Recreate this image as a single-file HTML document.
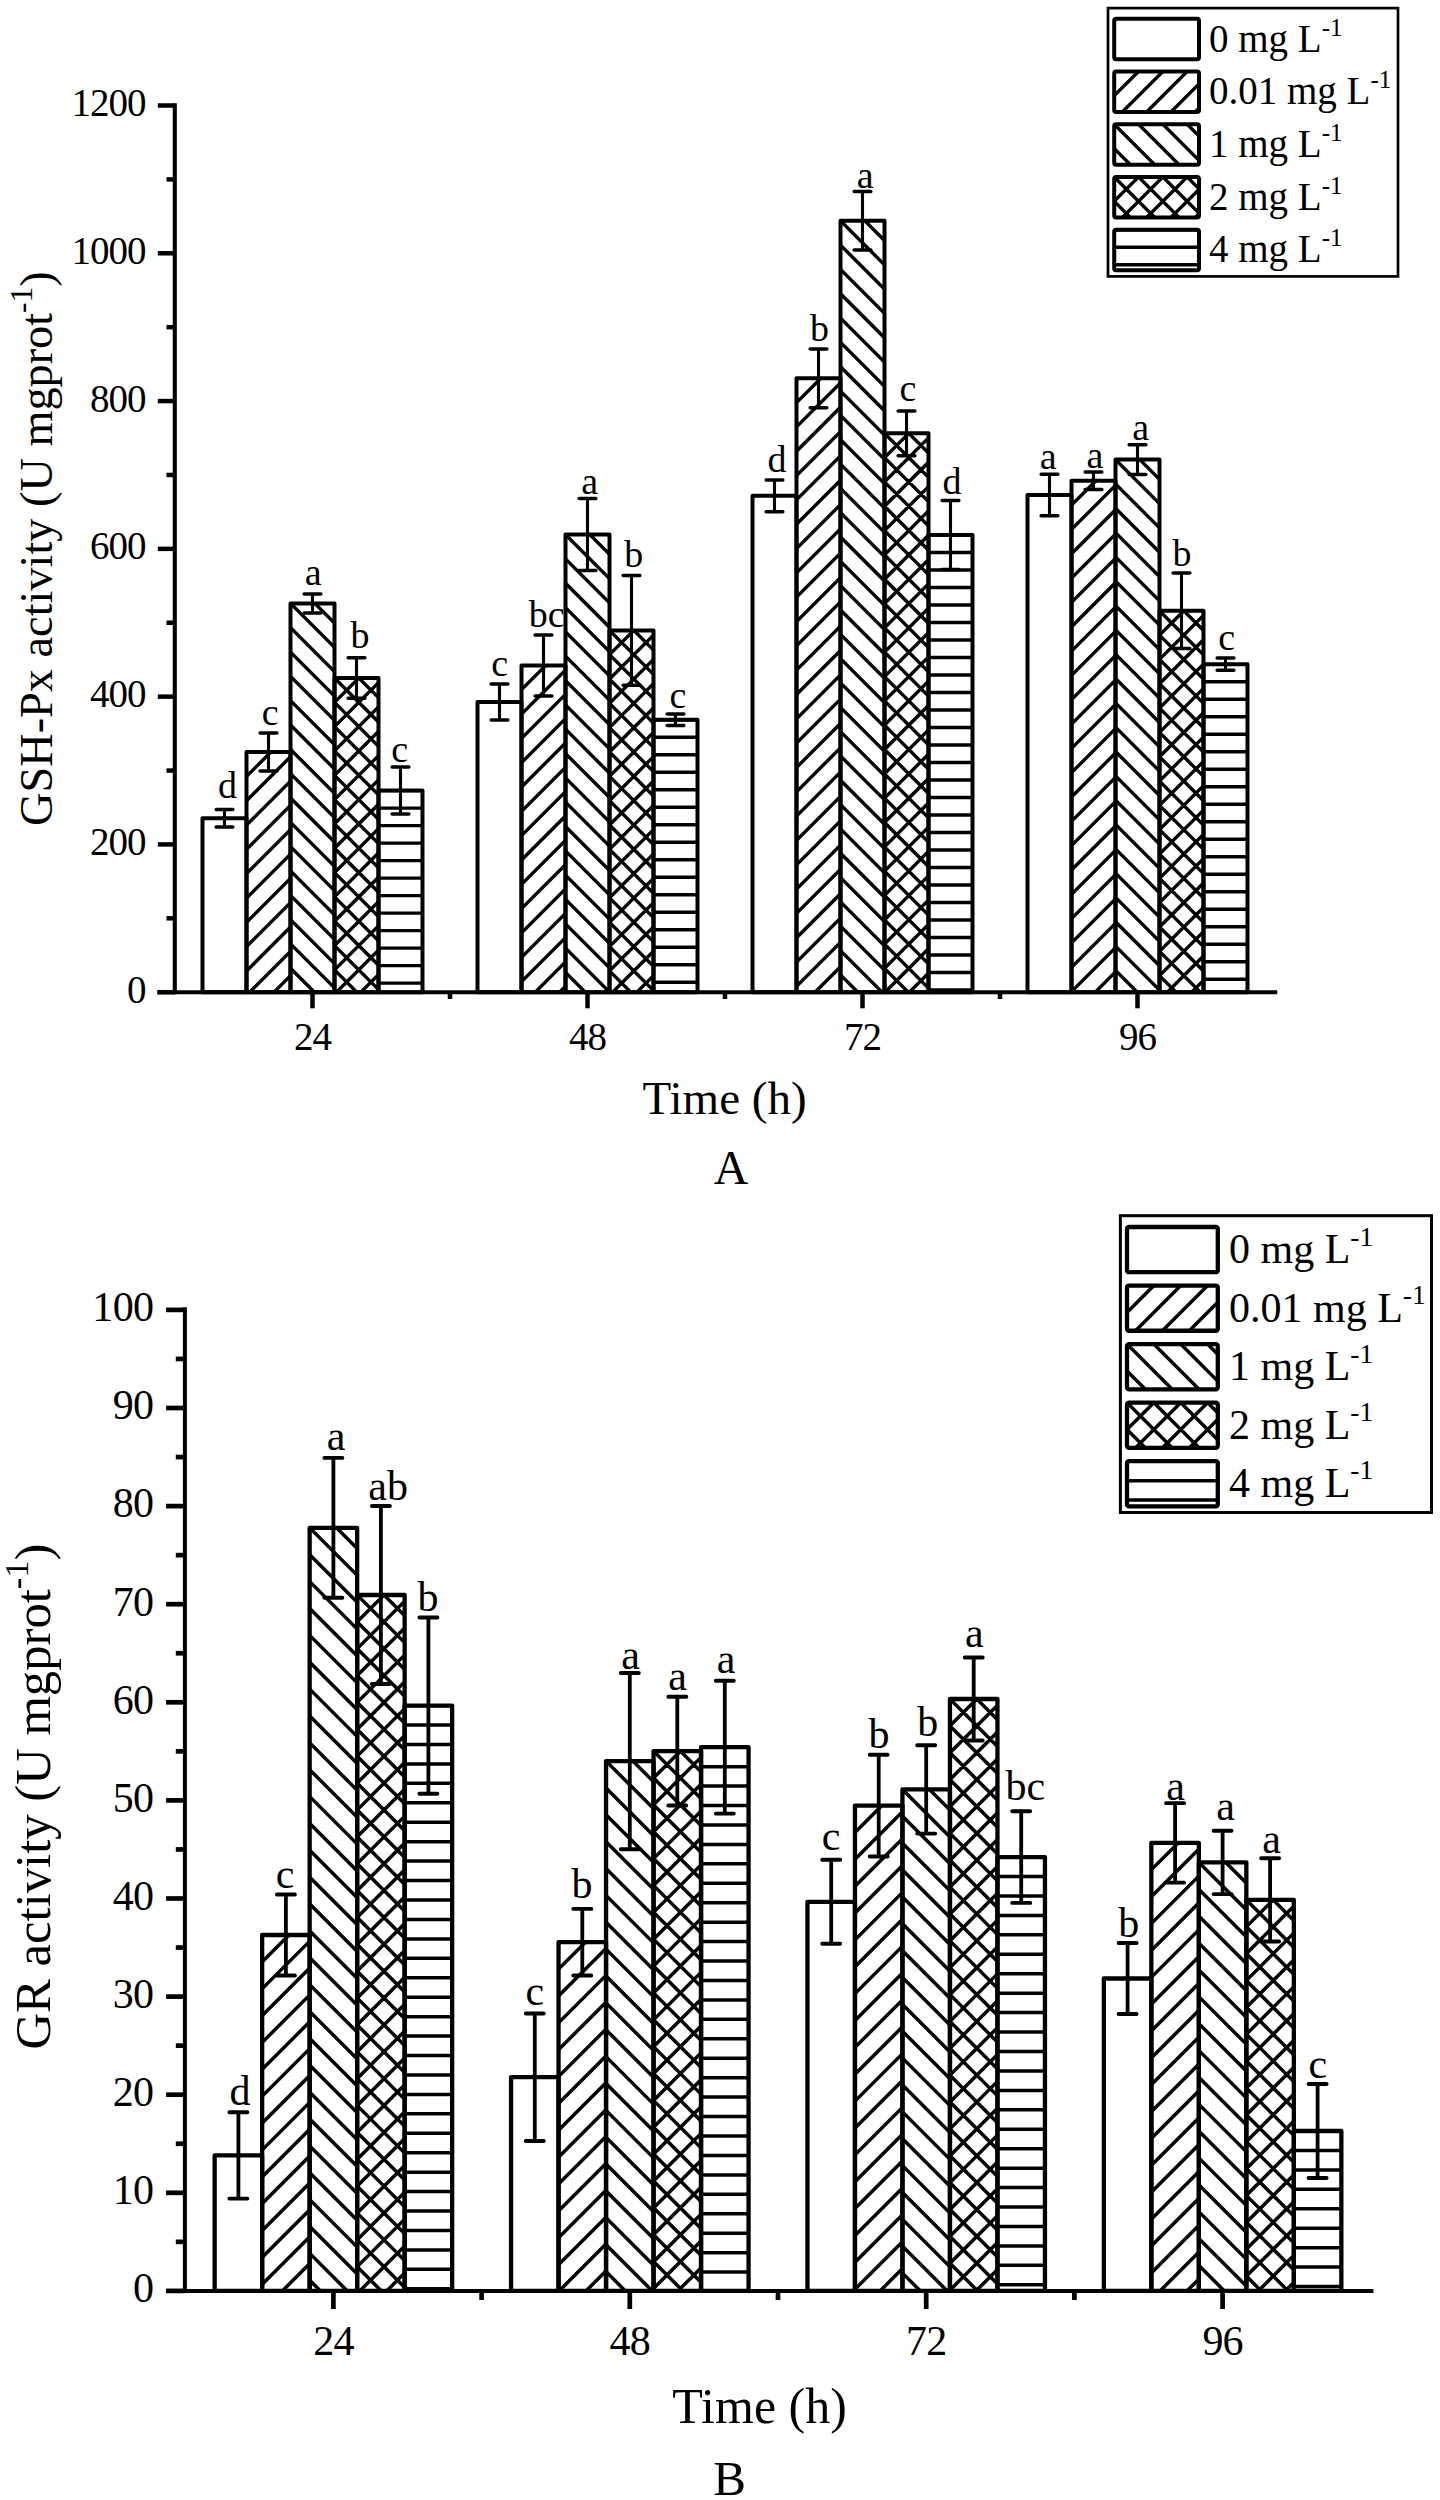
<!DOCTYPE html><html><head><meta charset="utf-8"><style>html,body{margin:0;padding:0;background:#fff;overflow:hidden}svg{display:block;}</style></head><body><svg width="1440" height="2500" viewBox="0 0 1440 2500" font-family="Liberation Serif, serif"><defs><pattern id="Ah" patternUnits="userSpaceOnUse" width="20" height="17.6" y="0"><rect x="0" y="0" width="20" height="3.3" fill="#000"/></pattern><pattern id="Af" patternUnits="userSpaceOnUse" width="20" height="17.2" patternTransform="rotate(-45)"><rect x="0" y="0" width="20" height="3.3" fill="#000"/></pattern><pattern id="Ab" patternUnits="userSpaceOnUse" width="20" height="17.2" patternTransform="rotate(45)"><rect x="0" y="0" width="20" height="3.3" fill="#000"/></pattern><pattern id="Bh" patternUnits="userSpaceOnUse" width="20" height="19.44" y="0"><rect x="0" y="0" width="20" height="3.5" fill="#000"/></pattern><pattern id="Bf" patternUnits="userSpaceOnUse" width="20" height="19" patternTransform="rotate(-45)"><rect x="0" y="0" width="20" height="3.5" fill="#000"/></pattern><pattern id="Bb" patternUnits="userSpaceOnUse" width="20" height="19" patternTransform="rotate(45)"><rect x="0" y="0" width="20" height="3.5" fill="#000"/></pattern></defs><rect width="1440" height="2500" fill="#fff"/><rect x="202.5" y="818.2" width="44" height="174" fill="none" stroke="#000" stroke-width="4" stroke-linejoin="round"/><clipPath id="c1"><rect x="246.5" y="752.1" width="44" height="240.1"/></clipPath><path clip-path="url(#c1)" d="M-22.92 997.2L227.18 747.1M1.4 997.2L251.5 747.1M25.72 997.2L275.82 747.1M50.05 997.2L300.15 747.1M74.37 997.2L324.47 747.1M98.7 997.2L348.8 747.1M123.02 997.2L373.12 747.1M147.35 997.2L397.45 747.1M171.67 997.2L421.77 747.1M196 997.2L446.1 747.1M220.32 997.2L470.42 747.1M244.64 997.2L494.74 747.1M268.97 997.2L519.07 747.1" stroke="#000" stroke-width="3.4" fill="none"/><rect x="246.5" y="752.1" width="44" height="240.1" fill="none" stroke="#000" stroke-width="4" stroke-linejoin="round"/><clipPath id="c2"><rect x="290.5" y="603.4" width="44" height="388.8"/></clipPath><path clip-path="url(#c2)" d="M-128.02 598.4L270.78 997.2M-103.69 598.4L295.11 997.2M-79.37 598.4L319.43 997.2M-55.04 598.4L343.76 997.2M-30.72 598.4L368.08 997.2M-6.39 598.4L392.41 997.2M17.93 598.4L416.73 997.2M42.26 598.4L441.06 997.2M66.58 598.4L465.38 997.2M90.9 598.4L489.7 997.2M115.23 598.4L514.03 997.2M139.55 598.4L538.35 997.2M163.88 598.4L562.68 997.2M188.2 598.4L587 997.2M212.53 598.4L611.33 997.2M236.85 598.4L635.65 997.2M261.18 598.4L659.98 997.2M285.5 598.4L684.3 997.2M309.82 598.4L708.62 997.2M334.15 598.4L732.95 997.2" stroke="#000" stroke-width="3.4" fill="none"/><rect x="290.5" y="603.4" width="44" height="388.8" fill="none" stroke="#000" stroke-width="4" stroke-linejoin="round"/><clipPath id="c3"><rect x="334.5" y="678" width="44" height="314.2"/></clipPath><path clip-path="url(#c3)" d="M-9.02 997.2L315.18 673M15.3 997.2L339.5 673M39.62 997.2L363.82 673M63.95 997.2L388.15 673M88.27 997.2L412.47 673M112.6 997.2L436.8 673M136.92 997.2L461.12 673M161.25 997.2L485.45 673M185.57 997.2L509.77 673M209.9 997.2L534.1 673M234.22 997.2L558.42 673M258.54 997.2L582.74 673M282.87 997.2L607.07 673M307.19 997.2L631.39 673M331.52 997.2L655.72 673M355.84 997.2L680.04 673M380.17 997.2L704.37 673M-11.04 673L313.16 997.2M13.28 673L337.48 997.2M37.61 673L361.81 997.2M61.93 673L386.13 997.2M86.26 673L410.46 997.2M110.58 673L434.78 997.2M134.9 673L459.1 997.2M159.23 673L483.43 997.2M183.55 673L507.75 997.2M207.88 673L532.08 997.2M232.2 673L556.4 997.2M256.53 673L580.73 997.2M280.85 673L605.05 997.2M305.18 673L629.38 997.2M329.5 673L653.7 997.2M353.82 673L678.02 997.2M378.15 673L702.35 997.2" stroke="#000" stroke-width="3.4" fill="none"/><rect x="334.5" y="678" width="44" height="314.2" fill="none" stroke="#000" stroke-width="4" stroke-linejoin="round"/><clipPath id="c4"><rect x="378.5" y="790.6" width="44" height="201.6"/></clipPath><path clip-path="url(#c4)" d="M376.5 790.6H424.5M376.5 808.1H424.5M376.5 825.6H424.5M376.5 843.1H424.5M376.5 860.6H424.5M376.5 878.1H424.5M376.5 895.6H424.5M376.5 913.1H424.5M376.5 930.6H424.5M376.5 948.1H424.5M376.5 965.6H424.5M376.5 983.1H424.5" stroke="#000" stroke-width="3.4" fill="none"/><rect x="378.5" y="790.6" width="44" height="201.6" fill="none" stroke="#000" stroke-width="4" stroke-linejoin="round"/><rect x="477.5" y="702.1" width="44" height="290.1" fill="none" stroke="#000" stroke-width="4" stroke-linejoin="round"/><clipPath id="c5"><rect x="521.5" y="665.4" width="44" height="326.8"/></clipPath><path clip-path="url(#c5)" d="M165.38 997.2L502.18 660.4M189.7 997.2L526.5 660.4M214.02 997.2L550.82 660.4M238.35 997.2L575.15 660.4M262.67 997.2L599.47 660.4M287 997.2L623.8 660.4M311.32 997.2L648.12 660.4M335.65 997.2L672.45 660.4M359.97 997.2L696.77 660.4M384.3 997.2L721.1 660.4M408.62 997.2L745.42 660.4M432.94 997.2L769.74 660.4M457.27 997.2L794.07 660.4M481.59 997.2L818.39 660.4M505.92 997.2L842.72 660.4M530.24 997.2L867.04 660.4M554.57 997.2L891.37 660.4" stroke="#000" stroke-width="3.4" fill="none"/><rect x="521.5" y="665.4" width="44" height="326.8" fill="none" stroke="#000" stroke-width="4" stroke-linejoin="round"/><clipPath id="c6"><rect x="565.5" y="534.6" width="44" height="457.6"/></clipPath><path clip-path="url(#c6)" d="M74.01 529.6L541.61 997.2M98.34 529.6L565.94 997.2M122.66 529.6L590.26 997.2M146.98 529.6L614.58 997.2M171.31 529.6L638.91 997.2M195.63 529.6L663.23 997.2M219.96 529.6L687.56 997.2M244.28 529.6L711.88 997.2M268.61 529.6L736.21 997.2M292.93 529.6L760.53 997.2M317.26 529.6L784.86 997.2M341.58 529.6L809.18 997.2M365.9 529.6L833.5 997.2M390.23 529.6L857.83 997.2M414.55 529.6L882.15 997.2M438.88 529.6L906.48 997.2M463.2 529.6L930.8 997.2M487.53 529.6L955.13 997.2M511.85 529.6L979.45 997.2M536.18 529.6L1003.78 997.2M560.5 529.6L1028.1 997.2M584.82 529.6L1052.42 997.2M609.15 529.6L1076.75 997.2" stroke="#000" stroke-width="3.4" fill="none"/><rect x="565.5" y="534.6" width="44" height="457.6" fill="none" stroke="#000" stroke-width="4" stroke-linejoin="round"/><clipPath id="c7"><rect x="609.5" y="630.4" width="44" height="361.8"/></clipPath><path clip-path="url(#c7)" d="M218.38 997.2L590.18 625.4M242.7 997.2L614.5 625.4M267.02 997.2L638.82 625.4M291.35 997.2L663.15 625.4M315.67 997.2L687.47 625.4M340 997.2L711.8 625.4M364.32 997.2L736.12 625.4M388.65 997.2L760.45 625.4M412.97 997.2L784.77 625.4M437.3 997.2L809.1 625.4M461.62 997.2L833.42 625.4M485.94 997.2L857.74 625.4M510.27 997.2L882.07 625.4M534.59 997.2L906.39 625.4M558.92 997.2L930.72 625.4M583.24 997.2L955.04 625.4M607.57 997.2L979.37 625.4M631.89 997.2L1003.69 625.4M215.31 625.4L587.11 997.2M239.63 625.4L611.43 997.2M263.96 625.4L635.76 997.2M288.28 625.4L660.08 997.2M312.61 625.4L684.41 997.2M336.93 625.4L708.73 997.2M361.26 625.4L733.06 997.2M385.58 625.4L757.38 997.2M409.9 625.4L781.7 997.2M434.23 625.4L806.03 997.2M458.55 625.4L830.35 997.2M482.88 625.4L854.68 997.2M507.2 625.4L879 997.2M531.53 625.4L903.33 997.2M555.85 625.4L927.65 997.2M580.18 625.4L951.98 997.2M604.5 625.4L976.3 997.2M628.82 625.4L1000.62 997.2M653.15 625.4L1024.95 997.2" stroke="#000" stroke-width="3.4" fill="none"/><rect x="609.5" y="630.4" width="44" height="361.8" fill="none" stroke="#000" stroke-width="4" stroke-linejoin="round"/><clipPath id="c8"><rect x="653.5" y="719.8" width="44" height="272.4"/></clipPath><path clip-path="url(#c8)" d="M651.5 719.8H699.5M651.5 737.3H699.5M651.5 754.8H699.5M651.5 772.3H699.5M651.5 789.8H699.5M651.5 807.3H699.5M651.5 824.8H699.5M651.5 842.3H699.5M651.5 859.8H699.5M651.5 877.3H699.5M651.5 894.8H699.5M651.5 912.3H699.5M651.5 929.8H699.5M651.5 947.3H699.5M651.5 964.8H699.5M651.5 982.3H699.5" stroke="#000" stroke-width="3.4" fill="none"/><rect x="653.5" y="719.8" width="44" height="272.4" fill="none" stroke="#000" stroke-width="4" stroke-linejoin="round"/><rect x="752.5" y="495.8" width="44" height="496.4" fill="none" stroke="#000" stroke-width="4" stroke-linejoin="round"/><clipPath id="c9"><rect x="796.5" y="378.3" width="44" height="613.9"/></clipPath><path clip-path="url(#c9)" d="M153.28 997.2L777.18 373.3M177.6 997.2L801.5 373.3M201.92 997.2L825.82 373.3M226.25 997.2L850.15 373.3M250.57 997.2L874.47 373.3M274.9 997.2L898.8 373.3M299.22 997.2L923.12 373.3M323.55 997.2L947.45 373.3M347.87 997.2L971.77 373.3M372.2 997.2L996.1 373.3M396.52 997.2L1020.42 373.3M420.84 997.2L1044.74 373.3M445.17 997.2L1069.07 373.3M469.49 997.2L1093.39 373.3M493.82 997.2L1117.72 373.3M518.14 997.2L1142.04 373.3M542.47 997.2L1166.37 373.3M566.79 997.2L1190.69 373.3M591.12 997.2L1215.02 373.3M615.44 997.2L1239.34 373.3M639.76 997.2L1263.66 373.3M664.09 997.2L1287.99 373.3M688.41 997.2L1312.31 373.3M712.74 997.2L1336.64 373.3M737.06 997.2L1360.96 373.3M761.39 997.2L1385.29 373.3M785.71 997.2L1409.61 373.3M810.04 997.2L1433.94 373.3M834.36 997.2L1458.26 373.3" stroke="#000" stroke-width="3.4" fill="none"/><rect x="796.5" y="378.3" width="44" height="613.9" fill="none" stroke="#000" stroke-width="4" stroke-linejoin="round"/><clipPath id="c10"><rect x="840.5" y="220.8" width="44" height="771.4"/></clipPath><path clip-path="url(#c10)" d="M57.12 215.8L838.52 997.2M81.44 215.8L862.84 997.2M105.77 215.8L887.17 997.2M130.09 215.8L911.49 997.2M154.41 215.8L935.81 997.2M178.74 215.8L960.14 997.2M203.06 215.8L984.46 997.2M227.39 215.8L1008.79 997.2M251.71 215.8L1033.11 997.2M276.04 215.8L1057.44 997.2M300.36 215.8L1081.76 997.2M324.69 215.8L1106.09 997.2M349.01 215.8L1130.41 997.2M373.34 215.8L1154.74 997.2M397.66 215.8L1179.06 997.2M421.98 215.8L1203.38 997.2M446.31 215.8L1227.71 997.2M470.63 215.8L1252.03 997.2M494.96 215.8L1276.36 997.2M519.28 215.8L1300.68 997.2M543.61 215.8L1325.01 997.2M567.93 215.8L1349.33 997.2M592.26 215.8L1373.66 997.2M616.58 215.8L1397.98 997.2M640.9 215.8L1422.3 997.2M665.23 215.8L1446.63 997.2M689.55 215.8L1470.95 997.2M713.88 215.8L1495.28 997.2M738.2 215.8L1519.6 997.2M762.53 215.8L1543.93 997.2M786.85 215.8L1568.25 997.2M811.18 215.8L1592.58 997.2M835.5 215.8L1616.9 997.2M859.82 215.8L1641.22 997.2M884.15 215.8L1665.55 997.2" stroke="#000" stroke-width="3.4" fill="none"/><rect x="840.5" y="220.8" width="44" height="771.4" fill="none" stroke="#000" stroke-width="4" stroke-linejoin="round"/><clipPath id="c11"><rect x="884.5" y="433.3" width="44" height="558.9"/></clipPath><path clip-path="url(#c11)" d="M296.28 997.2L865.18 428.3M320.6 997.2L889.5 428.3M344.92 997.2L913.82 428.3M369.25 997.2L938.15 428.3M393.57 997.2L962.47 428.3M417.9 997.2L986.8 428.3M442.22 997.2L1011.12 428.3M466.55 997.2L1035.45 428.3M490.87 997.2L1059.77 428.3M515.2 997.2L1084.1 428.3M539.52 997.2L1108.42 428.3M563.84 997.2L1132.74 428.3M588.17 997.2L1157.07 428.3M612.49 997.2L1181.39 428.3M636.82 997.2L1205.72 428.3M661.14 997.2L1230.04 428.3M685.47 997.2L1254.37 428.3M709.79 997.2L1278.69 428.3M734.12 997.2L1303.02 428.3M758.44 997.2L1327.34 428.3M782.76 997.2L1351.66 428.3M807.09 997.2L1375.99 428.3M831.41 997.2L1400.31 428.3M855.74 997.2L1424.64 428.3M880.06 997.2L1448.96 428.3M904.39 997.2L1473.29 428.3M928.71 997.2L1497.61 428.3M295.71 428.3L864.61 997.2M320.04 428.3L888.94 997.2M344.36 428.3L913.26 997.2M368.69 428.3L937.59 997.2M393.01 428.3L961.91 997.2M417.34 428.3L986.24 997.2M441.66 428.3L1010.56 997.2M465.98 428.3L1034.88 997.2M490.31 428.3L1059.21 997.2M514.63 428.3L1083.53 997.2M538.96 428.3L1107.86 997.2M563.28 428.3L1132.18 997.2M587.61 428.3L1156.51 997.2M611.93 428.3L1180.83 997.2M636.26 428.3L1205.16 997.2M660.58 428.3L1229.48 997.2M684.9 428.3L1253.8 997.2M709.23 428.3L1278.13 997.2M733.55 428.3L1302.45 997.2M757.88 428.3L1326.78 997.2M782.2 428.3L1351.1 997.2M806.53 428.3L1375.43 997.2M830.85 428.3L1399.75 997.2M855.18 428.3L1424.08 997.2M879.5 428.3L1448.4 997.2M903.82 428.3L1472.72 997.2M928.15 428.3L1497.05 997.2" stroke="#000" stroke-width="3.4" fill="none"/><rect x="884.5" y="433.3" width="44" height="558.9" fill="none" stroke="#000" stroke-width="4" stroke-linejoin="round"/><clipPath id="c12"><rect x="928.5" y="535" width="44" height="457.2"/></clipPath><path clip-path="url(#c12)" d="M926.5 535H974.5M926.5 552.5H974.5M926.5 570H974.5M926.5 587.5H974.5M926.5 605H974.5M926.5 622.5H974.5M926.5 640H974.5M926.5 657.5H974.5M926.5 675H974.5M926.5 692.5H974.5M926.5 710H974.5M926.5 727.5H974.5M926.5 745H974.5M926.5 762.5H974.5M926.5 780H974.5M926.5 797.5H974.5M926.5 815H974.5M926.5 832.5H974.5M926.5 850H974.5M926.5 867.5H974.5M926.5 885H974.5M926.5 902.5H974.5M926.5 920H974.5M926.5 937.5H974.5M926.5 955H974.5M926.5 972.5H974.5M926.5 990H974.5" stroke="#000" stroke-width="3.4" fill="none"/><rect x="928.5" y="535" width="44" height="457.2" fill="none" stroke="#000" stroke-width="4" stroke-linejoin="round"/><rect x="1027.5" y="495" width="44" height="497.2" fill="none" stroke="#000" stroke-width="4" stroke-linejoin="round"/><clipPath id="c13"><rect x="1071.5" y="480.8" width="44" height="511.4"/></clipPath><path clip-path="url(#c13)" d="M530.78 997.2L1052.18 475.8M555.1 997.2L1076.5 475.8M579.42 997.2L1100.82 475.8M603.75 997.2L1125.15 475.8M628.07 997.2L1149.47 475.8M652.4 997.2L1173.8 475.8M676.72 997.2L1198.12 475.8M701.05 997.2L1222.45 475.8M725.37 997.2L1246.77 475.8M749.7 997.2L1271.1 475.8M774.02 997.2L1295.42 475.8M798.34 997.2L1319.74 475.8M822.67 997.2L1344.07 475.8M846.99 997.2L1368.39 475.8M871.32 997.2L1392.72 475.8M895.64 997.2L1417.04 475.8M919.97 997.2L1441.37 475.8M944.29 997.2L1465.69 475.8M968.62 997.2L1490.02 475.8M992.94 997.2L1514.34 475.8M1017.26 997.2L1538.66 475.8M1041.59 997.2L1562.99 475.8M1065.91 997.2L1587.31 475.8M1090.24 997.2L1611.64 475.8M1114.56 997.2L1635.96 475.8" stroke="#000" stroke-width="3.4" fill="none"/><rect x="1071.5" y="480.8" width="44" height="511.4" fill="none" stroke="#000" stroke-width="4" stroke-linejoin="round"/><clipPath id="c14"><rect x="1115.5" y="459.6" width="44" height="532.6"/></clipPath><path clip-path="url(#c14)" d="M551.04 454.6L1093.64 997.2M575.36 454.6L1117.96 997.2M599.69 454.6L1142.29 997.2M624.01 454.6L1166.61 997.2M648.34 454.6L1190.94 997.2M672.66 454.6L1215.26 997.2M696.98 454.6L1239.58 997.2M721.31 454.6L1263.91 997.2M745.63 454.6L1288.23 997.2M769.96 454.6L1312.56 997.2M794.28 454.6L1336.88 997.2M818.61 454.6L1361.21 997.2M842.93 454.6L1385.53 997.2M867.26 454.6L1409.86 997.2M891.58 454.6L1434.18 997.2M915.9 454.6L1458.5 997.2M940.23 454.6L1482.83 997.2M964.55 454.6L1507.15 997.2M988.88 454.6L1531.48 997.2M1013.2 454.6L1555.8 997.2M1037.53 454.6L1580.13 997.2M1061.85 454.6L1604.45 997.2M1086.18 454.6L1628.78 997.2M1110.5 454.6L1653.1 997.2M1134.82 454.6L1677.42 997.2M1159.15 454.6L1701.75 997.2" stroke="#000" stroke-width="3.4" fill="none"/><rect x="1115.5" y="459.6" width="44" height="532.6" fill="none" stroke="#000" stroke-width="4" stroke-linejoin="round"/><clipPath id="c15"><rect x="1159.5" y="610.8" width="44" height="381.4"/></clipPath><path clip-path="url(#c15)" d="M748.78 997.2L1140.18 605.8M773.1 997.2L1164.5 605.8M797.42 997.2L1188.82 605.8M821.75 997.2L1213.15 605.8M846.07 997.2L1237.47 605.8M870.4 997.2L1261.8 605.8M894.72 997.2L1286.12 605.8M919.05 997.2L1310.45 605.8M943.37 997.2L1334.77 605.8M967.7 997.2L1359.1 605.8M992.02 997.2L1383.42 605.8M1016.34 997.2L1407.74 605.8M1040.67 997.2L1432.07 605.8M1064.99 997.2L1456.39 605.8M1089.32 997.2L1480.72 605.8M1113.64 997.2L1505.04 605.8M1137.97 997.2L1529.37 605.8M1162.29 997.2L1553.69 605.8M1186.62 997.2L1578.02 605.8M765.31 605.8L1156.71 997.2M789.63 605.8L1181.03 997.2M813.96 605.8L1205.36 997.2M838.28 605.8L1229.68 997.2M862.61 605.8L1254.01 997.2M886.93 605.8L1278.33 997.2M911.26 605.8L1302.66 997.2M935.58 605.8L1326.98 997.2M959.9 605.8L1351.3 997.2M984.23 605.8L1375.63 997.2M1008.55 605.8L1399.95 997.2M1032.88 605.8L1424.28 997.2M1057.2 605.8L1448.6 997.2M1081.53 605.8L1472.93 997.2M1105.85 605.8L1497.25 997.2M1130.18 605.8L1521.58 997.2M1154.5 605.8L1545.9 997.2M1178.82 605.8L1570.22 997.2M1203.15 605.8L1594.55 997.2" stroke="#000" stroke-width="3.4" fill="none"/><rect x="1159.5" y="610.8" width="44" height="381.4" fill="none" stroke="#000" stroke-width="4" stroke-linejoin="round"/><clipPath id="c16"><rect x="1203.5" y="664.2" width="44" height="328"/></clipPath><path clip-path="url(#c16)" d="M1201.5 664.2H1249.5M1201.5 681.7H1249.5M1201.5 699.2H1249.5M1201.5 716.7H1249.5M1201.5 734.2H1249.5M1201.5 751.7H1249.5M1201.5 769.2H1249.5M1201.5 786.7H1249.5M1201.5 804.2H1249.5M1201.5 821.7H1249.5M1201.5 839.2H1249.5M1201.5 856.7H1249.5M1201.5 874.2H1249.5M1201.5 891.7H1249.5M1201.5 909.2H1249.5M1201.5 926.7H1249.5M1201.5 944.2H1249.5M1201.5 961.7H1249.5M1201.5 979.2H1249.5" stroke="#000" stroke-width="3.4" fill="none"/><rect x="1203.5" y="664.2" width="44" height="328" fill="none" stroke="#000" stroke-width="4" stroke-linejoin="round"/><path d="M224.5 809.5V826.9" stroke="#000" stroke-width="3.1" fill="none"/><path d="M216.15 809.5H232.85M216.15 826.9H232.85" stroke="#000" stroke-width="3.5" fill="none" stroke-linecap="round"/><text x="227.5" y="797.9" font-size="38" text-anchor="middle">d</text><path d="M268.5 733.1V771.1" stroke="#000" stroke-width="3.1" fill="none"/><path d="M260.15 733.1H276.85M260.15 771.1H276.85" stroke="#000" stroke-width="3.5" fill="none" stroke-linecap="round"/><text x="270.25" y="724.6" font-size="38" text-anchor="middle">c</text><path d="M312.5 593.9V612.9" stroke="#000" stroke-width="3.1" fill="none"/><path d="M304.15 593.9H320.85M304.15 612.9H320.85" stroke="#000" stroke-width="3.5" fill="none" stroke-linecap="round"/><text x="313.3" y="585" font-size="38" text-anchor="middle">a</text><path d="M356.5 657.7V698.3" stroke="#000" stroke-width="3.1" fill="none"/><path d="M348.15 657.7H364.85M348.15 698.3H364.85" stroke="#000" stroke-width="3.5" fill="none" stroke-linecap="round"/><text x="360" y="648.3" font-size="38" text-anchor="middle">b</text><path d="M400.5 767.1V814.1" stroke="#000" stroke-width="3.1" fill="none"/><path d="M392.15 767.1H408.85M392.15 814.1H408.85" stroke="#000" stroke-width="3.5" fill="none" stroke-linecap="round"/><text x="399.6" y="762" font-size="38" text-anchor="middle">c</text><path d="M499.5 684.1V720.1" stroke="#000" stroke-width="3.1" fill="none"/><path d="M491.15 684.1H507.85M491.15 720.1H507.85" stroke="#000" stroke-width="3.5" fill="none" stroke-linecap="round"/><text x="499.6" y="675.8" font-size="38" text-anchor="middle">c</text><path d="M543.5 634.9V695.9" stroke="#000" stroke-width="3.1" fill="none"/><path d="M535.15 634.9H551.85M535.15 695.9H551.85" stroke="#000" stroke-width="3.5" fill="none" stroke-linecap="round"/><text x="546.7" y="626.7" font-size="38" text-anchor="middle">bc</text><path d="M587.5 498.6V570.6" stroke="#000" stroke-width="3.1" fill="none"/><path d="M579.15 498.6H595.85M579.15 570.6H595.85" stroke="#000" stroke-width="3.5" fill="none" stroke-linecap="round"/><text x="589.6" y="494.2" font-size="38" text-anchor="middle">a</text><path d="M631.5 575.6V685.2" stroke="#000" stroke-width="3.1" fill="none"/><path d="M623.15 575.6H639.85M623.15 685.2H639.85" stroke="#000" stroke-width="3.5" fill="none" stroke-linecap="round"/><text x="633.75" y="566.7" font-size="38" text-anchor="middle">b</text><path d="M675.5 714.1V725.5" stroke="#000" stroke-width="3.1" fill="none"/><path d="M667.15 714.1H683.85M667.15 725.5H683.85" stroke="#000" stroke-width="3.5" fill="none" stroke-linecap="round"/><text x="677.9" y="708.3" font-size="38" text-anchor="middle">c</text><path d="M774.5 479.9V511.7" stroke="#000" stroke-width="3.1" fill="none"/><path d="M766.15 479.9H782.85M766.15 511.7H782.85" stroke="#000" stroke-width="3.5" fill="none" stroke-linecap="round"/><text x="777" y="471.7" font-size="38" text-anchor="middle">d</text><path d="M818.5 348.9V407.7" stroke="#000" stroke-width="3.1" fill="none"/><path d="M810.15 348.9H826.85M810.15 407.7H826.85" stroke="#000" stroke-width="3.5" fill="none" stroke-linecap="round"/><text x="819.6" y="340.8" font-size="38" text-anchor="middle">b</text><path d="M862.5 191.6V250" stroke="#000" stroke-width="3.1" fill="none"/><path d="M854.15 191.6H870.85M854.15 250H870.85" stroke="#000" stroke-width="3.5" fill="none" stroke-linecap="round"/><text x="865.3" y="187.8" font-size="38" text-anchor="middle">a</text><path d="M906.5 410.9V455.7" stroke="#000" stroke-width="3.1" fill="none"/><path d="M898.15 410.9H914.85M898.15 455.7H914.85" stroke="#000" stroke-width="3.5" fill="none" stroke-linecap="round"/><text x="907.9" y="400.8" font-size="38" text-anchor="middle">c</text><path d="M950.5 500.6V569.4" stroke="#000" stroke-width="3.1" fill="none"/><path d="M942.15 500.6H958.85M942.15 569.4H958.85" stroke="#000" stroke-width="3.5" fill="none" stroke-linecap="round"/><text x="952" y="494.2" font-size="38" text-anchor="middle">d</text><path d="M1049.5 474.3V515.7" stroke="#000" stroke-width="3.1" fill="none"/><path d="M1041.15 474.3H1057.85M1041.15 515.7H1057.85" stroke="#000" stroke-width="3.5" fill="none" stroke-linecap="round"/><text x="1048.3" y="469.2" font-size="38" text-anchor="middle">a</text><path d="M1093.5 472V489.6" stroke="#000" stroke-width="3.1" fill="none"/><path d="M1085.15 472H1101.85M1085.15 489.6H1101.85" stroke="#000" stroke-width="3.5" fill="none" stroke-linecap="round"/><text x="1095" y="467.5" font-size="38" text-anchor="middle">a</text><path d="M1137.5 444.8V474.4" stroke="#000" stroke-width="3.1" fill="none"/><path d="M1129.15 444.8H1145.85M1129.15 474.4H1145.85" stroke="#000" stroke-width="3.5" fill="none" stroke-linecap="round"/><text x="1140.8" y="440" font-size="38" text-anchor="middle">a</text><path d="M1181.5 573V648.6" stroke="#000" stroke-width="3.1" fill="none"/><path d="M1173.15 573H1189.85M1173.15 648.6H1189.85" stroke="#000" stroke-width="3.5" fill="none" stroke-linecap="round"/><text x="1182.1" y="565.8" font-size="38" text-anchor="middle">b</text><path d="M1225.5 658.1V670.3" stroke="#000" stroke-width="3.1" fill="none"/><path d="M1217.15 658.1H1233.85M1217.15 670.3H1233.85" stroke="#000" stroke-width="3.5" fill="none" stroke-linecap="round"/><text x="1226.7" y="650" font-size="38" text-anchor="middle">c</text><path d="M157.2 992.2H1277.2" stroke="#000" stroke-width="4.1"/><path d="M174.8 103.2V994.25" stroke="#000" stroke-width="4.1"/><path d="M157.8 992.2H174.8" stroke="#000" stroke-width="4.5"/><text x="145.5" y="1002.7" font-size="39" text-anchor="end" letter-spacing="-1">0</text><path d="M166.5 918.31H174.8" stroke="#000" stroke-width="4.5"/><path d="M157.8 844.42H174.8" stroke="#000" stroke-width="4.5"/><text x="145.5" y="854.92" font-size="39" text-anchor="end" letter-spacing="-1">200</text><path d="M166.5 770.53H174.8" stroke="#000" stroke-width="4.5"/><path d="M157.8 696.63H174.8" stroke="#000" stroke-width="4.5"/><text x="145.5" y="707.13" font-size="39" text-anchor="end" letter-spacing="-1">400</text><path d="M166.5 622.74H174.8" stroke="#000" stroke-width="4.5"/><path d="M157.8 548.85H174.8" stroke="#000" stroke-width="4.5"/><text x="145.5" y="559.35" font-size="39" text-anchor="end" letter-spacing="-1">600</text><path d="M166.5 474.96H174.8" stroke="#000" stroke-width="4.5"/><path d="M157.8 401.07H174.8" stroke="#000" stroke-width="4.5"/><text x="145.5" y="411.57" font-size="39" text-anchor="end" letter-spacing="-1">800</text><path d="M166.5 327.18H174.8" stroke="#000" stroke-width="4.5"/><path d="M157.8 253.28H174.8" stroke="#000" stroke-width="4.5"/><text x="145.5" y="263.78" font-size="39" text-anchor="end" letter-spacing="-1">1000</text><path d="M166.5 179.39H174.8" stroke="#000" stroke-width="4.5"/><path d="M157.8 105.5H174.8" stroke="#000" stroke-width="4.5"/><text x="145.5" y="116" font-size="39" text-anchor="end" letter-spacing="-1">1200</text><path d="M312.5 992.2V1008.3" stroke="#000" stroke-width="4.5"/><text x="312.5" y="1049.7" font-size="39" text-anchor="middle" letter-spacing="-1">24</text><path d="M450 992.2V999" stroke="#000" stroke-width="4.5"/><path d="M587.5 992.2V1008.3" stroke="#000" stroke-width="4.5"/><text x="587.5" y="1049.7" font-size="39" text-anchor="middle" letter-spacing="-1">48</text><path d="M725 992.2V999" stroke="#000" stroke-width="4.5"/><path d="M862.5 992.2V1008.3" stroke="#000" stroke-width="4.5"/><text x="862.5" y="1049.7" font-size="39" text-anchor="middle" letter-spacing="-1">72</text><path d="M1000 992.2V999" stroke="#000" stroke-width="4.5"/><path d="M1137.5 992.2V1008.3" stroke="#000" stroke-width="4.5"/><text x="1137.5" y="1049.7" font-size="39" text-anchor="middle" letter-spacing="-1">96</text><text x="724.5" y="1114.2" font-size="47" text-anchor="middle">Time (h)</text><text x="731" y="1183.6" font-size="48" text-anchor="middle">A</text><text transform="translate(51.6 548.6) rotate(-90)" font-size="46.3" text-anchor="middle">GSH-Px activity (U mgprot<tspan font-size="31.48" dy="-19.45">-1</tspan><tspan dy="19.45">)</tspan></text><rect x="1108" y="8.1" width="290" height="268.3" fill="#fff" stroke="#000" stroke-width="2.7"/><rect x="1114.2" y="18.7" width="84.8" height="40.5" rx="2" fill="none" stroke="#000" stroke-width="4" stroke-linejoin="round"/><text x="1209" y="51.6" font-size="39">0 mg L<tspan font-size="25" dy="-16">-1</tspan></text><clipPath id="c17"><rect x="1114.2" y="71.45" width="84.8" height="40.5"/></clipPath><path clip-path="url(#c17)" d="M1044.38 116.95L1094.88 66.45M1068.7 116.95L1119.2 66.45M1093.02 116.95L1143.52 66.45M1117.35 116.95L1167.85 66.45M1141.67 116.95L1192.17 66.45M1166 116.95L1216.5 66.45M1190.32 116.95L1240.82 66.45" stroke="#000" stroke-width="3.4" fill="none"/><rect x="1114.2" y="71.45" width="84.8" height="40.5" rx="2" fill="none" stroke="#000" stroke-width="4" stroke-linejoin="round"/><text x="1209" y="104.3" font-size="39">0.01 mg L<tspan font-size="25" dy="-16">-1</tspan></text><clipPath id="c18"><rect x="1114.2" y="124.2" width="84.8" height="40.5"/></clipPath><path clip-path="url(#c18)" d="M1060.55 119.2L1111.05 169.7M1084.88 119.2L1135.38 169.7M1109.2 119.2L1159.7 169.7M1133.52 119.2L1184.02 169.7M1157.85 119.2L1208.35 169.7M1182.17 119.2L1232.67 169.7" stroke="#000" stroke-width="3.4" fill="none"/><rect x="1114.2" y="124.2" width="84.8" height="40.5" rx="2" fill="none" stroke="#000" stroke-width="4" stroke-linejoin="round"/><text x="1209" y="157" font-size="39">1 mg L<tspan font-size="25" dy="-16">-1</tspan></text><clipPath id="c19"><rect x="1114.2" y="176.95" width="84.8" height="40.5"/></clipPath><path clip-path="url(#c19)" d="M1044.38 222.45L1094.88 171.95M1068.7 222.45L1119.2 171.95M1093.02 222.45L1143.52 171.95M1117.35 222.45L1167.85 171.95M1141.67 222.45L1192.17 171.95M1166 222.45L1216.5 171.95M1190.32 222.45L1240.82 171.95M1060.55 171.95L1111.05 222.45M1084.88 171.95L1135.38 222.45M1109.2 171.95L1159.7 222.45M1133.52 171.95L1184.02 222.45M1157.85 171.95L1208.35 222.45M1182.17 171.95L1232.67 222.45" stroke="#000" stroke-width="3.4" fill="none"/><rect x="1114.2" y="176.95" width="84.8" height="40.5" rx="2" fill="none" stroke="#000" stroke-width="4" stroke-linejoin="round"/><text x="1209" y="209.7" font-size="39">2 mg L<tspan font-size="25" dy="-16">-1</tspan></text><clipPath id="c20"><rect x="1114.2" y="229.7" width="84.8" height="40.5"/></clipPath><path clip-path="url(#c20)" d="M1112.2 229.7H1201M1112.2 247.2H1201M1112.2 264.7H1201" stroke="#000" stroke-width="3.4" fill="none"/><rect x="1114.2" y="229.7" width="84.8" height="40.5" rx="2" fill="none" stroke="#000" stroke-width="4" stroke-linejoin="round"/><text x="1209" y="262.4" font-size="39">4 mg L<tspan font-size="25" dy="-16">-1</tspan></text><rect x="214.65" y="2155.4" width="47.5" height="135.5" fill="none" stroke="#000" stroke-width="4.3" stroke-linejoin="round"/><clipPath id="c21"><rect x="262.15" y="1935" width="47.5" height="355.9"/></clipPath><path clip-path="url(#c21)" d="M-125.62 2295.9L240.28 1930M-98.75 2295.9L267.15 1930M-71.88 2295.9L294.02 1930M-45.01 2295.9L320.89 1930M-18.14 2295.9L347.76 1930M8.73 2295.9L374.63 1930M35.6 2295.9L401.5 1930M62.47 2295.9L428.37 1930M89.34 2295.9L455.24 1930M116.21 2295.9L482.11 1930M143.08 2295.9L508.98 1930M169.95 2295.9L535.85 1930M196.82 2295.9L562.72 1930M223.69 2295.9L589.59 1930M250.56 2295.9L616.46 1930M277.43 2295.9L643.33 1930M304.3 2295.9L670.2 1930" stroke="#000" stroke-width="3.5" fill="none"/><rect x="262.15" y="1935" width="47.5" height="355.9" fill="none" stroke="#000" stroke-width="4.3" stroke-linejoin="round"/><clipPath id="c22"><rect x="309.65" y="1527.8" width="47.5" height="763.1"/></clipPath><path clip-path="url(#c22)" d="M-474.58 1522.8L298.52 2295.9M-447.71 1522.8L325.39 2295.9M-420.84 1522.8L352.26 2295.9M-393.97 1522.8L379.13 2295.9M-367.1 1522.8L406 2295.9M-340.23 1522.8L432.87 2295.9M-313.36 1522.8L459.74 2295.9M-286.49 1522.8L486.61 2295.9M-259.62 1522.8L513.48 2295.9M-232.75 1522.8L540.35 2295.9M-205.88 1522.8L567.22 2295.9M-179.01 1522.8L594.09 2295.9M-152.14 1522.8L620.96 2295.9M-125.27 1522.8L647.83 2295.9M-98.4 1522.8L674.7 2295.9M-71.53 1522.8L701.57 2295.9M-44.66 1522.8L728.44 2295.9M-17.79 1522.8L755.31 2295.9M9.08 1522.8L782.18 2295.9M35.95 1522.8L809.05 2295.9M62.82 1522.8L835.92 2295.9M89.69 1522.8L862.79 2295.9M116.56 1522.8L889.66 2295.9M143.43 1522.8L916.53 2295.9M170.3 1522.8L943.4 2295.9M197.17 1522.8L970.27 2295.9M224.04 1522.8L997.14 2295.9M250.91 1522.8L1024.01 2295.9M277.78 1522.8L1050.88 2295.9M304.65 1522.8L1077.75 2295.9M331.52 1522.8L1104.62 2295.9M358.39 1522.8L1131.49 2295.9" stroke="#000" stroke-width="3.5" fill="none"/><rect x="309.65" y="1527.8" width="47.5" height="763.1" fill="none" stroke="#000" stroke-width="4.3" stroke-linejoin="round"/><clipPath id="c23"><rect x="357.15" y="1595" width="47.5" height="695.9"/></clipPath><path clip-path="url(#c23)" d="M-370.62 2295.9L335.28 1590M-343.75 2295.9L362.15 1590M-316.88 2295.9L389.02 1590M-290.01 2295.9L415.89 1590M-263.14 2295.9L442.76 1590M-236.27 2295.9L469.63 1590M-209.4 2295.9L496.5 1590M-182.53 2295.9L523.37 1590M-155.66 2295.9L550.24 1590M-128.79 2295.9L577.11 1590M-101.92 2295.9L603.98 1590M-75.05 2295.9L630.85 1590M-48.18 2295.9L657.72 1590M-21.31 2295.9L684.59 1590M5.56 2295.9L711.46 1590M32.43 2295.9L738.33 1590M59.3 2295.9L765.2 1590M86.17 2295.9L792.07 1590M113.04 2295.9L818.94 1590M139.91 2295.9L845.81 1590M166.78 2295.9L872.68 1590M193.65 2295.9L899.55 1590M220.52 2295.9L926.42 1590M247.39 2295.9L953.29 1590M274.26 2295.9L980.16 1590M301.13 2295.9L1007.03 1590M328 2295.9L1033.9 1590M354.87 2295.9L1060.77 1590M381.74 2295.9L1087.64 1590M-373.34 1590L332.56 2295.9M-346.47 1590L359.43 2295.9M-319.6 1590L386.3 2295.9M-292.73 1590L413.17 2295.9M-265.86 1590L440.04 2295.9M-238.99 1590L466.91 2295.9M-212.12 1590L493.78 2295.9M-185.25 1590L520.65 2295.9M-158.38 1590L547.52 2295.9M-131.51 1590L574.39 2295.9M-104.64 1590L601.26 2295.9M-77.77 1590L628.13 2295.9M-50.9 1590L655 2295.9M-24.03 1590L681.87 2295.9M2.84 1590L708.74 2295.9M29.71 1590L735.61 2295.9M56.58 1590L762.48 2295.9M83.45 1590L789.35 2295.9M110.32 1590L816.22 2295.9M137.19 1590L843.09 2295.9M164.06 1590L869.96 2295.9M190.93 1590L896.83 2295.9M217.8 1590L923.7 2295.9M244.67 1590L950.57 2295.9M271.54 1590L977.44 2295.9M298.41 1590L1004.31 2295.9M325.28 1590L1031.18 2295.9M352.15 1590L1058.05 2295.9M379.02 1590L1084.92 2295.9M405.89 1590L1111.79 2295.9" stroke="#000" stroke-width="3.5" fill="none"/><rect x="357.15" y="1595" width="47.5" height="695.9" fill="none" stroke="#000" stroke-width="4.3" stroke-linejoin="round"/><clipPath id="c24"><rect x="404.65" y="1705.6" width="47.5" height="585.3"/></clipPath><path clip-path="url(#c24)" d="M402.65 1705.6H454.15M402.65 1725.04H454.15M402.65 1744.48H454.15M402.65 1763.92H454.15M402.65 1783.36H454.15M402.65 1802.8H454.15M402.65 1822.24H454.15M402.65 1841.68H454.15M402.65 1861.12H454.15M402.65 1880.56H454.15M402.65 1900H454.15M402.65 1919.44H454.15M402.65 1938.88H454.15M402.65 1958.32H454.15M402.65 1977.76H454.15M402.65 1997.2H454.15M402.65 2016.64H454.15M402.65 2036.08H454.15M402.65 2055.52H454.15M402.65 2074.96H454.15M402.65 2094.4H454.15M402.65 2113.84H454.15M402.65 2133.28H454.15M402.65 2152.72H454.15M402.65 2172.16H454.15M402.65 2191.6H454.15M402.65 2211.04H454.15M402.65 2230.48H454.15M402.65 2249.92H454.15M402.65 2269.36H454.15M402.65 2288.8H454.15" stroke="#000" stroke-width="3.5" fill="none"/><rect x="404.65" y="1705.6" width="47.5" height="585.3" fill="none" stroke="#000" stroke-width="4.3" stroke-linejoin="round"/><rect x="511.05" y="2077.2" width="47.5" height="213.7" fill="none" stroke="#000" stroke-width="4.3" stroke-linejoin="round"/><clipPath id="c25"><rect x="558.55" y="1942.2" width="47.5" height="348.7"/></clipPath><path clip-path="url(#c25)" d="M177.98 2295.9L536.68 1937.2M204.85 2295.9L563.55 1937.2M231.72 2295.9L590.42 1937.2M258.59 2295.9L617.29 1937.2M285.46 2295.9L644.16 1937.2M312.33 2295.9L671.03 1937.2M339.2 2295.9L697.9 1937.2M366.07 2295.9L724.77 1937.2M392.94 2295.9L751.64 1937.2M419.81 2295.9L778.51 1937.2M446.68 2295.9L805.38 1937.2M473.55 2295.9L832.25 1937.2M500.42 2295.9L859.12 1937.2M527.29 2295.9L885.99 1937.2M554.16 2295.9L912.86 1937.2M581.03 2295.9L939.73 1937.2M607.9 2295.9L966.6 1937.2" stroke="#000" stroke-width="3.5" fill="none"/><rect x="558.55" y="1942.2" width="47.5" height="348.7" fill="none" stroke="#000" stroke-width="4.3" stroke-linejoin="round"/><clipPath id="c26"><rect x="606.05" y="1761.1" width="47.5" height="529.8"/></clipPath><path clip-path="url(#c26)" d="M63.65 1756.1L603.45 2295.9M90.52 1756.1L630.32 2295.9M117.39 1756.1L657.19 2295.9M144.26 1756.1L684.06 2295.9M171.13 1756.1L710.93 2295.9M198 1756.1L737.8 2295.9M224.87 1756.1L764.67 2295.9M251.74 1756.1L791.54 2295.9M278.61 1756.1L818.41 2295.9M305.48 1756.1L845.28 2295.9M332.35 1756.1L872.15 2295.9M359.22 1756.1L899.02 2295.9M386.09 1756.1L925.89 2295.9M412.96 1756.1L952.76 2295.9M439.83 1756.1L979.63 2295.9M466.7 1756.1L1006.5 2295.9M493.57 1756.1L1033.37 2295.9M520.44 1756.1L1060.24 2295.9M547.31 1756.1L1087.11 2295.9M574.18 1756.1L1113.98 2295.9M601.05 1756.1L1140.85 2295.9M627.92 1756.1L1167.72 2295.9M654.79 1756.1L1194.59 2295.9" stroke="#000" stroke-width="3.5" fill="none"/><rect x="606.05" y="1761.1" width="47.5" height="529.8" fill="none" stroke="#000" stroke-width="4.3" stroke-linejoin="round"/><clipPath id="c27"><rect x="653.55" y="1751.1" width="47.5" height="539.8"/></clipPath><path clip-path="url(#c27)" d="M81.88 2295.9L631.68 1746.1M108.75 2295.9L658.55 1746.1M135.62 2295.9L685.42 1746.1M162.49 2295.9L712.29 1746.1M189.36 2295.9L739.16 1746.1M216.23 2295.9L766.03 1746.1M243.1 2295.9L792.9 1746.1M269.97 2295.9L819.77 1746.1M296.84 2295.9L846.64 1746.1M323.71 2295.9L873.51 1746.1M350.58 2295.9L900.38 1746.1M377.45 2295.9L927.25 1746.1M404.32 2295.9L954.12 1746.1M431.19 2295.9L980.99 1746.1M458.06 2295.9L1007.86 1746.1M484.93 2295.9L1034.73 1746.1M511.8 2295.9L1061.6 1746.1M538.67 2295.9L1088.47 1746.1M565.54 2295.9L1115.34 1746.1M592.41 2295.9L1142.21 1746.1M619.28 2295.9L1169.08 1746.1M646.15 2295.9L1195.95 1746.1M673.02 2295.9L1222.82 1746.1M699.89 2295.9L1249.69 1746.1M84.28 1746.1L634.08 2295.9M111.15 1746.1L660.95 2295.9M138.02 1746.1L687.82 2295.9M164.89 1746.1L714.69 2295.9M191.76 1746.1L741.56 2295.9M218.63 1746.1L768.43 2295.9M245.5 1746.1L795.3 2295.9M272.37 1746.1L822.17 2295.9M299.24 1746.1L849.04 2295.9M326.11 1746.1L875.91 2295.9M352.98 1746.1L902.78 2295.9M379.85 1746.1L929.65 2295.9M406.72 1746.1L956.52 2295.9M433.59 1746.1L983.39 2295.9M460.46 1746.1L1010.26 2295.9M487.33 1746.1L1037.13 2295.9M514.2 1746.1L1064 2295.9M541.07 1746.1L1090.87 2295.9M567.94 1746.1L1117.74 2295.9M594.81 1746.1L1144.61 2295.9M621.68 1746.1L1171.48 2295.9M648.55 1746.1L1198.35 2295.9M675.42 1746.1L1225.22 2295.9M702.29 1746.1L1252.09 2295.9" stroke="#000" stroke-width="3.5" fill="none"/><rect x="653.55" y="1751.1" width="47.5" height="539.8" fill="none" stroke="#000" stroke-width="4.3" stroke-linejoin="round"/><clipPath id="c28"><rect x="701.05" y="1747.2" width="47.5" height="543.7"/></clipPath><path clip-path="url(#c28)" d="M699.05 1747.2H750.55M699.05 1766.64H750.55M699.05 1786.08H750.55M699.05 1805.52H750.55M699.05 1824.96H750.55M699.05 1844.4H750.55M699.05 1863.84H750.55M699.05 1883.28H750.55M699.05 1902.72H750.55M699.05 1922.16H750.55M699.05 1941.6H750.55M699.05 1961.04H750.55M699.05 1980.48H750.55M699.05 1999.92H750.55M699.05 2019.36H750.55M699.05 2038.8H750.55M699.05 2058.24H750.55M699.05 2077.68H750.55M699.05 2097.12H750.55M699.05 2116.56H750.55M699.05 2136H750.55M699.05 2155.44H750.55M699.05 2174.88H750.55M699.05 2194.32H750.55M699.05 2213.76H750.55M699.05 2233.2H750.55M699.05 2252.64H750.55M699.05 2272.08H750.55M699.05 2291.52H750.55" stroke="#000" stroke-width="3.5" fill="none"/><rect x="701.05" y="1747.2" width="47.5" height="543.7" fill="none" stroke="#000" stroke-width="4.3" stroke-linejoin="round"/><rect x="807.45" y="1901.8" width="47.5" height="389.1" fill="none" stroke="#000" stroke-width="4.3" stroke-linejoin="round"/><clipPath id="c29"><rect x="854.95" y="1805.6" width="47.5" height="485.3"/></clipPath><path clip-path="url(#c29)" d="M337.78 2295.9L833.08 1800.6M364.65 2295.9L859.95 1800.6M391.52 2295.9L886.82 1800.6M418.39 2295.9L913.69 1800.6M445.26 2295.9L940.56 1800.6M472.13 2295.9L967.43 1800.6M499 2295.9L994.3 1800.6M525.87 2295.9L1021.17 1800.6M552.74 2295.9L1048.04 1800.6M579.61 2295.9L1074.91 1800.6M606.48 2295.9L1101.78 1800.6M633.35 2295.9L1128.65 1800.6M660.22 2295.9L1155.52 1800.6M687.09 2295.9L1182.39 1800.6M713.96 2295.9L1209.26 1800.6M740.83 2295.9L1236.13 1800.6M767.7 2295.9L1263 1800.6M794.57 2295.9L1289.87 1800.6M821.44 2295.9L1316.74 1800.6M848.31 2295.9L1343.61 1800.6M875.18 2295.9L1370.48 1800.6M902.05 2295.9L1397.35 1800.6" stroke="#000" stroke-width="3.5" fill="none"/><rect x="854.95" y="1805.6" width="47.5" height="485.3" fill="none" stroke="#000" stroke-width="4.3" stroke-linejoin="round"/><clipPath id="c30"><rect x="902.45" y="1789.4" width="47.5" height="501.5"/></clipPath><path clip-path="url(#c30)" d="M386.92 1784.4L898.42 2295.9M413.79 1784.4L925.29 2295.9M440.66 1784.4L952.16 2295.9M467.53 1784.4L979.03 2295.9M494.4 1784.4L1005.9 2295.9M521.27 1784.4L1032.77 2295.9M548.14 1784.4L1059.64 2295.9M575.01 1784.4L1086.51 2295.9M601.88 1784.4L1113.38 2295.9M628.75 1784.4L1140.25 2295.9M655.62 1784.4L1167.12 2295.9M682.49 1784.4L1193.99 2295.9M709.36 1784.4L1220.86 2295.9M736.23 1784.4L1247.73 2295.9M763.1 1784.4L1274.6 2295.9M789.97 1784.4L1301.47 2295.9M816.84 1784.4L1328.34 2295.9M843.71 1784.4L1355.21 2295.9M870.58 1784.4L1382.08 2295.9M897.45 1784.4L1408.95 2295.9M924.32 1784.4L1435.82 2295.9M951.19 1784.4L1462.69 2295.9" stroke="#000" stroke-width="3.5" fill="none"/><rect x="902.45" y="1789.4" width="47.5" height="501.5" fill="none" stroke="#000" stroke-width="4.3" stroke-linejoin="round"/><clipPath id="c31"><rect x="949.95" y="1699" width="47.5" height="591.9"/></clipPath><path clip-path="url(#c31)" d="M326.18 2295.9L928.08 1694M353.05 2295.9L954.95 1694M379.92 2295.9L981.82 1694M406.79 2295.9L1008.69 1694M433.66 2295.9L1035.56 1694M460.53 2295.9L1062.43 1694M487.4 2295.9L1089.3 1694M514.27 2295.9L1116.17 1694M541.14 2295.9L1143.04 1694M568.01 2295.9L1169.91 1694M594.88 2295.9L1196.78 1694M621.75 2295.9L1223.65 1694M648.62 2295.9L1250.52 1694M675.49 2295.9L1277.39 1694M702.36 2295.9L1304.26 1694M729.23 2295.9L1331.13 1694M756.1 2295.9L1358 1694M782.97 2295.9L1384.87 1694M809.84 2295.9L1411.74 1694M836.71 2295.9L1438.61 1694M863.58 2295.9L1465.48 1694M890.45 2295.9L1492.35 1694M917.32 2295.9L1519.22 1694M944.19 2295.9L1546.09 1694M971.06 2295.9L1572.96 1694M997.93 2295.9L1599.83 1694M326.94 1694L928.84 2295.9M353.81 1694L955.71 2295.9M380.68 1694L982.58 2295.9M407.55 1694L1009.45 2295.9M434.42 1694L1036.32 2295.9M461.29 1694L1063.19 2295.9M488.16 1694L1090.06 2295.9M515.03 1694L1116.93 2295.9M541.9 1694L1143.8 2295.9M568.77 1694L1170.67 2295.9M595.64 1694L1197.54 2295.9M622.51 1694L1224.41 2295.9M649.38 1694L1251.28 2295.9M676.25 1694L1278.15 2295.9M703.12 1694L1305.02 2295.9M729.99 1694L1331.89 2295.9M756.86 1694L1358.76 2295.9M783.73 1694L1385.63 2295.9M810.6 1694L1412.5 2295.9M837.47 1694L1439.37 2295.9M864.34 1694L1466.24 2295.9M891.21 1694L1493.11 2295.9M918.08 1694L1519.98 2295.9M944.95 1694L1546.85 2295.9M971.82 1694L1573.72 2295.9M998.69 1694L1600.59 2295.9" stroke="#000" stroke-width="3.5" fill="none"/><rect x="949.95" y="1699" width="47.5" height="591.9" fill="none" stroke="#000" stroke-width="4.3" stroke-linejoin="round"/><clipPath id="c32"><rect x="997.45" y="1857.1" width="47.5" height="433.8"/></clipPath><path clip-path="url(#c32)" d="M995.45 1857.1H1046.95M995.45 1876.54H1046.95M995.45 1895.98H1046.95M995.45 1915.42H1046.95M995.45 1934.86H1046.95M995.45 1954.3H1046.95M995.45 1973.74H1046.95M995.45 1993.18H1046.95M995.45 2012.62H1046.95M995.45 2032.06H1046.95M995.45 2051.5H1046.95M995.45 2070.94H1046.95M995.45 2090.38H1046.95M995.45 2109.82H1046.95M995.45 2129.26H1046.95M995.45 2148.7H1046.95M995.45 2168.14H1046.95M995.45 2187.58H1046.95M995.45 2207.02H1046.95M995.45 2226.46H1046.95M995.45 2245.9H1046.95M995.45 2265.34H1046.95M995.45 2284.78H1046.95" stroke="#000" stroke-width="3.5" fill="none"/><rect x="997.45" y="1857.1" width="47.5" height="433.8" fill="none" stroke="#000" stroke-width="4.3" stroke-linejoin="round"/><rect x="1103.85" y="1978.5" width="47.5" height="312.4" fill="none" stroke="#000" stroke-width="4.3" stroke-linejoin="round"/><clipPath id="c33"><rect x="1151.35" y="1842.9" width="47.5" height="448"/></clipPath><path clip-path="url(#c33)" d="M671.48 2295.9L1129.48 1837.9M698.35 2295.9L1156.35 1837.9M725.22 2295.9L1183.22 1837.9M752.09 2295.9L1210.09 1837.9M778.96 2295.9L1236.96 1837.9M805.83 2295.9L1263.83 1837.9M832.7 2295.9L1290.7 1837.9M859.57 2295.9L1317.57 1837.9M886.44 2295.9L1344.44 1837.9M913.31 2295.9L1371.31 1837.9M940.18 2295.9L1398.18 1837.9M967.05 2295.9L1425.05 1837.9M993.92 2295.9L1451.92 1837.9M1020.79 2295.9L1478.79 1837.9M1047.66 2295.9L1505.66 1837.9M1074.53 2295.9L1532.53 1837.9M1101.4 2295.9L1559.4 1837.9M1128.27 2295.9L1586.27 1837.9M1155.14 2295.9L1613.14 1837.9M1182.01 2295.9L1640.01 1837.9" stroke="#000" stroke-width="3.5" fill="none"/><rect x="1151.35" y="1842.9" width="47.5" height="448" fill="none" stroke="#000" stroke-width="4.3" stroke-linejoin="round"/><clipPath id="c34"><rect x="1198.85" y="1862.4" width="47.5" height="428.5"/></clipPath><path clip-path="url(#c34)" d="M737.06 1857.4L1175.56 2295.9M763.93 1857.4L1202.43 2295.9M790.8 1857.4L1229.3 2295.9M817.67 1857.4L1256.17 2295.9M844.54 1857.4L1283.04 2295.9M871.41 1857.4L1309.91 2295.9M898.28 1857.4L1336.78 2295.9M925.15 1857.4L1363.65 2295.9M952.02 1857.4L1390.52 2295.9M978.89 1857.4L1417.39 2295.9M1005.76 1857.4L1444.26 2295.9M1032.63 1857.4L1471.13 2295.9M1059.5 1857.4L1498 2295.9M1086.37 1857.4L1524.87 2295.9M1113.24 1857.4L1551.74 2295.9M1140.11 1857.4L1578.61 2295.9M1166.98 1857.4L1605.48 2295.9M1193.85 1857.4L1632.35 2295.9M1220.72 1857.4L1659.22 2295.9M1247.59 1857.4L1686.09 2295.9" stroke="#000" stroke-width="3.5" fill="none"/><rect x="1198.85" y="1862.4" width="47.5" height="428.5" fill="none" stroke="#000" stroke-width="4.3" stroke-linejoin="round"/><clipPath id="c35"><rect x="1246.35" y="1899.9" width="47.5" height="391"/></clipPath><path clip-path="url(#c35)" d="M823.48 2295.9L1224.48 1894.9M850.35 2295.9L1251.35 1894.9M877.22 2295.9L1278.22 1894.9M904.09 2295.9L1305.09 1894.9M930.96 2295.9L1331.96 1894.9M957.83 2295.9L1358.83 1894.9M984.7 2295.9L1385.7 1894.9M1011.57 2295.9L1412.57 1894.9M1038.44 2295.9L1439.44 1894.9M1065.31 2295.9L1466.31 1894.9M1092.18 2295.9L1493.18 1894.9M1119.05 2295.9L1520.05 1894.9M1145.92 2295.9L1546.92 1894.9M1172.79 2295.9L1573.79 1894.9M1199.66 2295.9L1600.66 1894.9M1226.53 2295.9L1627.53 1894.9M1253.4 2295.9L1654.4 1894.9M1280.27 2295.9L1681.27 1894.9M838.3 1894.9L1239.3 2295.9M865.17 1894.9L1266.17 2295.9M892.04 1894.9L1293.04 2295.9M918.91 1894.9L1319.91 2295.9M945.78 1894.9L1346.78 2295.9M972.65 1894.9L1373.65 2295.9M999.52 1894.9L1400.52 2295.9M1026.39 1894.9L1427.39 2295.9M1053.26 1894.9L1454.26 2295.9M1080.13 1894.9L1481.13 2295.9M1107 1894.9L1508 2295.9M1133.87 1894.9L1534.87 2295.9M1160.74 1894.9L1561.74 2295.9M1187.61 1894.9L1588.61 2295.9M1214.48 1894.9L1615.48 2295.9M1241.35 1894.9L1642.35 2295.9M1268.22 1894.9L1669.22 2295.9M1295.09 1894.9L1696.09 2295.9" stroke="#000" stroke-width="3.5" fill="none"/><rect x="1246.35" y="1899.9" width="47.5" height="391" fill="none" stroke="#000" stroke-width="4.3" stroke-linejoin="round"/><clipPath id="c36"><rect x="1293.85" y="2131" width="47.5" height="159.9"/></clipPath><path clip-path="url(#c36)" d="M1291.85 2131H1343.35M1291.85 2150.44H1343.35M1291.85 2169.88H1343.35M1291.85 2189.32H1343.35M1291.85 2208.76H1343.35M1291.85 2228.2H1343.35M1291.85 2247.64H1343.35M1291.85 2267.08H1343.35M1291.85 2286.52H1343.35" stroke="#000" stroke-width="3.5" fill="none"/><rect x="1293.85" y="2131" width="47.5" height="159.9" fill="none" stroke="#000" stroke-width="4.3" stroke-linejoin="round"/><path d="M238.4 2112.2V2198.6" stroke="#000" stroke-width="3.8" fill="none"/><path d="M229.4 2112.2H247.4M229.4 2198.6H247.4" stroke="#000" stroke-width="3.9" fill="none" stroke-linecap="round"/><text x="239.9" y="2105.4" font-size="42" text-anchor="middle">d</text><path d="M285.9 1894.55V1975.45" stroke="#000" stroke-width="3.8" fill="none"/><path d="M276.9 1894.55H294.9M276.9 1975.45H294.9" stroke="#000" stroke-width="3.9" fill="none" stroke-linecap="round"/><text x="285" y="1887.9" font-size="42" text-anchor="middle">c</text><path d="M333.4 1457.9V1597.7" stroke="#000" stroke-width="3.8" fill="none"/><path d="M324.4 1457.9H342.4M324.4 1597.7H342.4" stroke="#000" stroke-width="3.9" fill="none" stroke-linecap="round"/><text x="336" y="1450" font-size="42" text-anchor="middle">a</text><path d="M380.9 1506.05V1683.95" stroke="#000" stroke-width="3.8" fill="none"/><path d="M371.9 1506.05H389.9M371.9 1683.95H389.9" stroke="#000" stroke-width="3.9" fill="none" stroke-linecap="round"/><text x="388.1" y="1500" font-size="42" text-anchor="middle">ab</text><path d="M428.4 1617.5V1793.7" stroke="#000" stroke-width="3.8" fill="none"/><path d="M419.4 1617.5H437.4M419.4 1793.7H437.4" stroke="#000" stroke-width="3.9" fill="none" stroke-linecap="round"/><text x="428" y="1610.8" font-size="42" text-anchor="middle">b</text><path d="M534.8 2013.45V2140.95" stroke="#000" stroke-width="3.8" fill="none"/><path d="M525.8 2013.45H543.8M525.8 2140.95H543.8" stroke="#000" stroke-width="3.9" fill="none" stroke-linecap="round"/><text x="534.8" y="2004.6" font-size="42" text-anchor="middle">c</text><path d="M582.3 1908.9V1975.5" stroke="#000" stroke-width="3.8" fill="none"/><path d="M573.3 1908.9H591.3M573.3 1975.5H591.3" stroke="#000" stroke-width="3.9" fill="none" stroke-linecap="round"/><text x="581.9" y="1898.4" font-size="42" text-anchor="middle">b</text><path d="M629.8 1672.95V1849.25" stroke="#000" stroke-width="3.8" fill="none"/><path d="M620.8 1672.95H638.8M620.8 1849.25H638.8" stroke="#000" stroke-width="3.9" fill="none" stroke-linecap="round"/><text x="630.6" y="1668.9" font-size="42" text-anchor="middle">a</text><path d="M677.3 1696.75V1805.45" stroke="#000" stroke-width="3.8" fill="none"/><path d="M668.3 1696.75H686.3M668.3 1805.45H686.3" stroke="#000" stroke-width="3.9" fill="none" stroke-linecap="round"/><text x="677.5" y="1690" font-size="42" text-anchor="middle">a</text><path d="M724.8 1680.8V1813.6" stroke="#000" stroke-width="3.8" fill="none"/><path d="M715.8 1680.8H733.8M715.8 1813.6H733.8" stroke="#000" stroke-width="3.9" fill="none" stroke-linecap="round"/><text x="726.1" y="1672.8" font-size="42" text-anchor="middle">a</text><path d="M831.2 1859.8V1943.8" stroke="#000" stroke-width="3.8" fill="none"/><path d="M822.2 1859.8H840.2M822.2 1943.8H840.2" stroke="#000" stroke-width="3.9" fill="none" stroke-linecap="round"/><text x="831.2" y="1849.9" font-size="42" text-anchor="middle">c</text><path d="M878.7 1754.75V1856.45" stroke="#000" stroke-width="3.8" fill="none"/><path d="M869.7 1754.75H887.7M869.7 1856.45H887.7" stroke="#000" stroke-width="3.9" fill="none" stroke-linecap="round"/><text x="879" y="1747.9" font-size="42" text-anchor="middle">b</text><path d="M926.2 1745.2V1833.6" stroke="#000" stroke-width="3.8" fill="none"/><path d="M917.2 1745.2H935.2M917.2 1833.6H935.2" stroke="#000" stroke-width="3.9" fill="none" stroke-linecap="round"/><text x="927.7" y="1736.1" font-size="42" text-anchor="middle">b</text><path d="M973.7 1657.45V1740.55" stroke="#000" stroke-width="3.8" fill="none"/><path d="M964.7 1657.45H982.7M964.7 1740.55H982.7" stroke="#000" stroke-width="3.9" fill="none" stroke-linecap="round"/><text x="974.4" y="1646.7" font-size="42" text-anchor="middle">a</text><path d="M1021.2 1811.3V1902.9" stroke="#000" stroke-width="3.8" fill="none"/><path d="M1012.2 1811.3H1030.2M1012.2 1902.9H1030.2" stroke="#000" stroke-width="3.9" fill="none" stroke-linecap="round"/><text x="1025.3" y="1800.2" font-size="42" text-anchor="middle">bc</text><path d="M1127.6 1943V2014" stroke="#000" stroke-width="3.8" fill="none"/><path d="M1118.6 1943H1136.6M1118.6 2014H1136.6" stroke="#000" stroke-width="3.9" fill="none" stroke-linecap="round"/><text x="1128.8" y="1936.7" font-size="42" text-anchor="middle">b</text><path d="M1175.1 1803.15V1882.65" stroke="#000" stroke-width="3.8" fill="none"/><path d="M1166.1 1803.15H1184.1M1166.1 1882.65H1184.1" stroke="#000" stroke-width="3.9" fill="none" stroke-linecap="round"/><text x="1175.7" y="1799.9" font-size="42" text-anchor="middle">a</text><path d="M1222.6 1830.7V1894.1" stroke="#000" stroke-width="3.8" fill="none"/><path d="M1213.6 1830.7H1231.6M1213.6 1894.1H1231.6" stroke="#000" stroke-width="3.9" fill="none" stroke-linecap="round"/><text x="1225.7" y="1820" font-size="42" text-anchor="middle">a</text><path d="M1270.1 1858.25V1941.55" stroke="#000" stroke-width="3.8" fill="none"/><path d="M1261.1 1858.25H1279.1M1261.1 1941.55H1279.1" stroke="#000" stroke-width="3.9" fill="none" stroke-linecap="round"/><text x="1271.5" y="1852.6" font-size="42" text-anchor="middle">a</text><path d="M1317.6 2084V2178" stroke="#000" stroke-width="3.8" fill="none"/><path d="M1308.6 2084H1326.6M1308.6 2178H1326.6" stroke="#000" stroke-width="3.9" fill="none" stroke-linecap="round"/><text x="1317.9" y="2077.6" font-size="42" text-anchor="middle">c</text><path d="M166.1 2290.9H1373.4" stroke="#000" stroke-width="4"/><path d="M184.9 1307.2V2292.9" stroke="#000" stroke-width="4"/><path d="M166.1 2290.9H184.9" stroke="#000" stroke-width="4.7"/><text x="153.5" y="2302.2" font-size="42" text-anchor="end" letter-spacing="-0.6">0</text><path d="M175.8 2241.85H184.9" stroke="#000" stroke-width="4.7"/><path d="M166.1 2192.8H184.9" stroke="#000" stroke-width="4.7"/><text x="153.5" y="2204.1" font-size="42" text-anchor="end" letter-spacing="-0.6">10</text><path d="M175.8 2143.75H184.9" stroke="#000" stroke-width="4.7"/><path d="M166.1 2094.7H184.9" stroke="#000" stroke-width="4.7"/><text x="153.5" y="2106" font-size="42" text-anchor="end" letter-spacing="-0.6">20</text><path d="M175.8 2045.65H184.9" stroke="#000" stroke-width="4.7"/><path d="M166.1 1996.6H184.9" stroke="#000" stroke-width="4.7"/><text x="153.5" y="2007.9" font-size="42" text-anchor="end" letter-spacing="-0.6">30</text><path d="M175.8 1947.55H184.9" stroke="#000" stroke-width="4.7"/><path d="M166.1 1898.5H184.9" stroke="#000" stroke-width="4.7"/><text x="153.5" y="1909.8" font-size="42" text-anchor="end" letter-spacing="-0.6">40</text><path d="M175.8 1849.45H184.9" stroke="#000" stroke-width="4.7"/><path d="M166.1 1800.4H184.9" stroke="#000" stroke-width="4.7"/><text x="153.5" y="1811.7" font-size="42" text-anchor="end" letter-spacing="-0.6">50</text><path d="M175.8 1751.35H184.9" stroke="#000" stroke-width="4.7"/><path d="M166.1 1702.3H184.9" stroke="#000" stroke-width="4.7"/><text x="153.5" y="1713.6" font-size="42" text-anchor="end" letter-spacing="-0.6">60</text><path d="M175.8 1653.25H184.9" stroke="#000" stroke-width="4.7"/><path d="M166.1 1604.2H184.9" stroke="#000" stroke-width="4.7"/><text x="153.5" y="1615.5" font-size="42" text-anchor="end" letter-spacing="-0.6">70</text><path d="M175.8 1555.15H184.9" stroke="#000" stroke-width="4.7"/><path d="M166.1 1506.1H184.9" stroke="#000" stroke-width="4.7"/><text x="153.5" y="1517.4" font-size="42" text-anchor="end" letter-spacing="-0.6">80</text><path d="M175.8 1457.05H184.9" stroke="#000" stroke-width="4.7"/><path d="M166.1 1408H184.9" stroke="#000" stroke-width="4.7"/><text x="153.5" y="1419.3" font-size="42" text-anchor="end" letter-spacing="-0.6">90</text><path d="M175.8 1358.95H184.9" stroke="#000" stroke-width="4.7"/><path d="M166.1 1309.9H184.9" stroke="#000" stroke-width="4.7"/><text x="153.5" y="1321.2" font-size="42" text-anchor="end" letter-spacing="-0.6">100</text><path d="M333.4 2290.9V2309" stroke="#000" stroke-width="4.7"/><text x="333.4" y="2355" font-size="42" text-anchor="middle" letter-spacing="-0.8">24</text><path d="M481.6 2290.9V2300" stroke="#000" stroke-width="4.7"/><path d="M629.8 2290.9V2309" stroke="#000" stroke-width="4.7"/><text x="629.8" y="2355" font-size="42" text-anchor="middle" letter-spacing="-0.8">48</text><path d="M778 2290.9V2300" stroke="#000" stroke-width="4.7"/><path d="M926.2 2290.9V2309" stroke="#000" stroke-width="4.7"/><text x="926.2" y="2355" font-size="42" text-anchor="middle" letter-spacing="-0.8">72</text><path d="M1074.4 2290.9V2300" stroke="#000" stroke-width="4.7"/><path d="M1222.6 2290.9V2309" stroke="#000" stroke-width="4.7"/><text x="1222.6" y="2355" font-size="42" text-anchor="middle" letter-spacing="-0.8">96</text><text x="759.6" y="2423.3" font-size="50" text-anchor="middle">Time (h)</text><text x="729.5" y="2494.5" font-size="49" text-anchor="middle">B</text><text transform="translate(49.5 1796.5) rotate(-90)" font-size="50.7" text-anchor="middle">GR activity (U mgprot<tspan font-size="34.48" dy="-21.29">-1</tspan><tspan dy="21.29">)</tspan></text><rect x="1120.4" y="1215.7" width="311.1" height="296.8" fill="#fff" stroke="#000" stroke-width="3"/><rect x="1127" y="1227" width="90.8" height="45.2" rx="2" fill="none" stroke="#000" stroke-width="4.3" stroke-linejoin="round"/><text x="1229" y="1263.3" font-size="42">0 mg L<tspan font-size="27.5" dy="-17.5">-1</tspan></text><clipPath id="c37"><rect x="1127" y="1285.55" width="90.8" height="45.2"/></clipPath><path clip-path="url(#c37)" d="M1049.93 1335.75L1105.13 1280.55M1076.8 1335.75L1132 1280.55M1103.67 1335.75L1158.87 1280.55M1130.54 1335.75L1185.74 1280.55M1157.41 1335.75L1212.61 1280.55M1184.28 1335.75L1239.48 1280.55M1211.15 1335.75L1266.35 1280.55" stroke="#000" stroke-width="3.5" fill="none"/><rect x="1127" y="1285.55" width="90.8" height="45.2" rx="2" fill="none" stroke="#000" stroke-width="4.3" stroke-linejoin="round"/><text x="1229" y="1321.7" font-size="42">0.01 mg L<tspan font-size="27.5" dy="-17.5">-1</tspan></text><clipPath id="c38"><rect x="1127" y="1344.1" width="90.8" height="45.2"/></clipPath><path clip-path="url(#c38)" d="M1068.26 1339.1L1123.46 1394.3M1095.13 1339.1L1150.33 1394.3M1122 1339.1L1177.2 1394.3M1148.87 1339.1L1204.07 1394.3M1175.74 1339.1L1230.94 1394.3M1202.61 1339.1L1257.81 1394.3" stroke="#000" stroke-width="3.5" fill="none"/><rect x="1127" y="1344.1" width="90.8" height="45.2" rx="2" fill="none" stroke="#000" stroke-width="4.3" stroke-linejoin="round"/><text x="1229" y="1380.1" font-size="42">1 mg L<tspan font-size="27.5" dy="-17.5">-1</tspan></text><clipPath id="c39"><rect x="1127" y="1402.65" width="90.8" height="45.2"/></clipPath><path clip-path="url(#c39)" d="M1049.93 1452.85L1105.13 1397.65M1076.8 1452.85L1132 1397.65M1103.67 1452.85L1158.87 1397.65M1130.54 1452.85L1185.74 1397.65M1157.41 1452.85L1212.61 1397.65M1184.28 1452.85L1239.48 1397.65M1211.15 1452.85L1266.35 1397.65M1068.26 1397.65L1123.46 1452.85M1095.13 1397.65L1150.33 1452.85M1122 1397.65L1177.2 1452.85M1148.87 1397.65L1204.07 1452.85M1175.74 1397.65L1230.94 1452.85M1202.61 1397.65L1257.81 1452.85" stroke="#000" stroke-width="3.5" fill="none"/><rect x="1127" y="1402.65" width="90.8" height="45.2" rx="2" fill="none" stroke="#000" stroke-width="4.3" stroke-linejoin="round"/><text x="1229" y="1438.5" font-size="42">2 mg L<tspan font-size="27.5" dy="-17.5">-1</tspan></text><clipPath id="c40"><rect x="1127" y="1461.2" width="90.8" height="45.2"/></clipPath><path clip-path="url(#c40)" d="M1125 1461.2H1219.8M1125 1480.64H1219.8M1125 1500.08H1219.8" stroke="#000" stroke-width="3.5" fill="none"/><rect x="1127" y="1461.2" width="90.8" height="45.2" rx="2" fill="none" stroke="#000" stroke-width="4.3" stroke-linejoin="round"/><text x="1229" y="1496.9" font-size="42">4 mg L<tspan font-size="27.5" dy="-17.5">-1</tspan></text></svg></body></html>
